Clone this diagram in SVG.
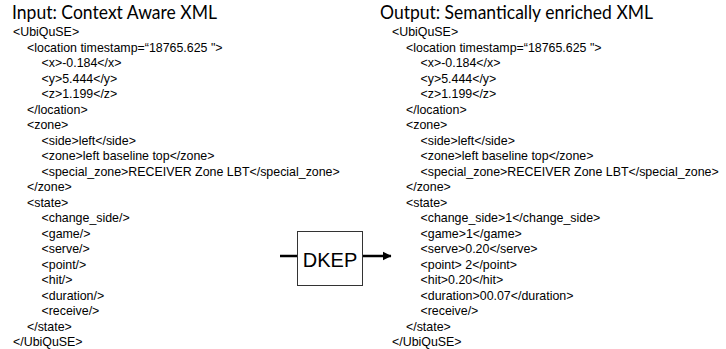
<svg xmlns="http://www.w3.org/2000/svg" width="726" height="349" viewBox="0 0 726 349">
  <style>
    .title { font-family: Lato, "Open Sans", "Liberation Sans", sans-serif; font-size: 19px; fill: #000; }
    .xml { font-family: "Liberation Sans", Arial, sans-serif; font-size: 12.4px; fill: #000; }
    .box { fill: #fff; stroke: #333; stroke-width: 1; }
    .label { font-family: "Liberation Sans", Arial, sans-serif; font-size: 20px; fill: #000; text-anchor: middle; }
    .conn { stroke: #000; stroke-width: 2.5; fill: none; }
  </style>
  <defs>
    <marker id="arrow" markerWidth="4" markerHeight="4" refX="3.2" refY="2" orient="auto" markerUnits="strokeWidth">
      <path d="M0,0.3 L3.4,2 L0,3.7 Z" fill="#000"/>
    </marker>
  </defs>
  <rect width="726" height="349" fill="#fff"/>

  <g id="input">
    <text class="title" x="12" y="18.5" textLength="205" lengthAdjust="spacingAndGlyphs">Input: Context Aware XML</text>
    <text class="xml" x="13" y="36">&lt;UbiQuSE&gt;</text>
    <text class="xml" x="27" y="51.5">&lt;location timestamp=“18765.625 "&gt;</text>
    <text class="xml" x="41.5" y="67">&lt;x&gt;-0.184&lt;/x&gt;</text>
    <text class="xml" x="41.5" y="82.5">&lt;y&gt;5.444&lt;/y&gt;</text>
    <text class="xml" x="41.5" y="98">&lt;z&gt;1.199&lt;/z&gt;</text>
    <text class="xml" x="27" y="113.5">&lt;/location&gt;</text>
    <text class="xml" x="27" y="129">&lt;zone&gt;</text>
    <text class="xml" x="41.5" y="144.5">&lt;side&gt;left&lt;/side&gt;</text>
    <text class="xml" x="41.5" y="160">&lt;zone&gt;left baseline top&lt;/zone&gt;</text>
    <text class="xml" x="41.5" y="175.5">&lt;special_zone&gt;RECEIVER Zone LBT&lt;/special_zone&gt;</text>
    <text class="xml" x="27" y="191">&lt;/zone&gt;</text>
    <text class="xml" x="27" y="206.5">&lt;state&gt;</text>
    <text class="xml" x="41.5" y="222">&lt;change_side/&gt;</text>
    <text class="xml" x="41.5" y="237.5">&lt;game/&gt;</text>
    <text class="xml" x="41.5" y="253">&lt;serve/&gt;</text>
    <text class="xml" x="41.5" y="268.5">&lt;point/&gt;</text>
    <text class="xml" x="41.5" y="284">&lt;hit/&gt;</text>
    <text class="xml" x="41.5" y="299.5">&lt;duration/&gt;</text>
    <text class="xml" x="41.5" y="315">&lt;receive/&gt;</text>
    <text class="xml" x="27" y="330.5">&lt;/state&gt;</text>
    <text class="xml" x="13" y="346">&lt;/UbiQuSE&gt;</text>
  </g>

  <g id="dkep">
    <rect class="box" x="297.5" y="231.5" width="65" height="54"/>
    <text class="label" x="330" y="266.5">DKEP</text>
  </g>

  <g id="output">
    <text class="title" x="380" y="18.5" textLength="273" lengthAdjust="spacingAndGlyphs">Output: Semantically enriched XML</text>
    <text class="xml" x="392" y="36">&lt;UbiQuSE&gt;</text>
    <text class="xml" x="406" y="51.5">&lt;location timestamp=“18765.625 "&gt;</text>
    <text class="xml" x="420.5" y="67">&lt;x&gt;-0.184&lt;/x&gt;</text>
    <text class="xml" x="420.5" y="82.5">&lt;y&gt;5.444&lt;/y&gt;</text>
    <text class="xml" x="420.5" y="98">&lt;z&gt;1.199&lt;/z&gt;</text>
    <text class="xml" x="406" y="113.5">&lt;/location&gt;</text>
    <text class="xml" x="406" y="129">&lt;zone&gt;</text>
    <text class="xml" x="420.5" y="144.5">&lt;side&gt;left&lt;/side&gt;</text>
    <text class="xml" x="420.5" y="160">&lt;zone&gt;left baseline top&lt;/zone&gt;</text>
    <text class="xml" x="420.5" y="175.5">&lt;special_zone&gt;RECEIVER Zone LBT&lt;/special_zone&gt;</text>
    <text class="xml" x="406" y="191">&lt;/zone&gt;</text>
    <text class="xml" x="406" y="206.5">&lt;state&gt;</text>
    <text class="xml" x="420.5" y="222">&lt;change_side&gt;1&lt;/change_side&gt;</text>
    <text class="xml" x="420.5" y="237.5">&lt;game&gt;1&lt;/game&gt;</text>
    <text class="xml" x="420.5" y="253">&lt;serve&gt;0.20&lt;/serve&gt;</text>
    <text class="xml" x="420.5" y="268.5">&lt;point&gt; 2&lt;/point&gt;</text>
    <text class="xml" x="420.5" y="284">&lt;hit&gt;0.20&lt;/hit&gt;</text>
    <text class="xml" x="420.5" y="299.5">&lt;duration&gt;00.07&lt;/duration&gt;</text>
    <text class="xml" x="420.5" y="315">&lt;receive/&gt;</text>
    <text class="xml" x="406" y="330.5">&lt;/state&gt;</text>
    <text class="xml" x="392" y="346">&lt;/UbiQuSE&gt;</text>
  </g>

  <g id="connectors">
    <line class="conn" x1="280" y1="256" x2="297" y2="256"/>
    <line class="conn" x1="363" y1="256" x2="391" y2="256" marker-end="url(#arrow)"/>
  </g>
</svg>
